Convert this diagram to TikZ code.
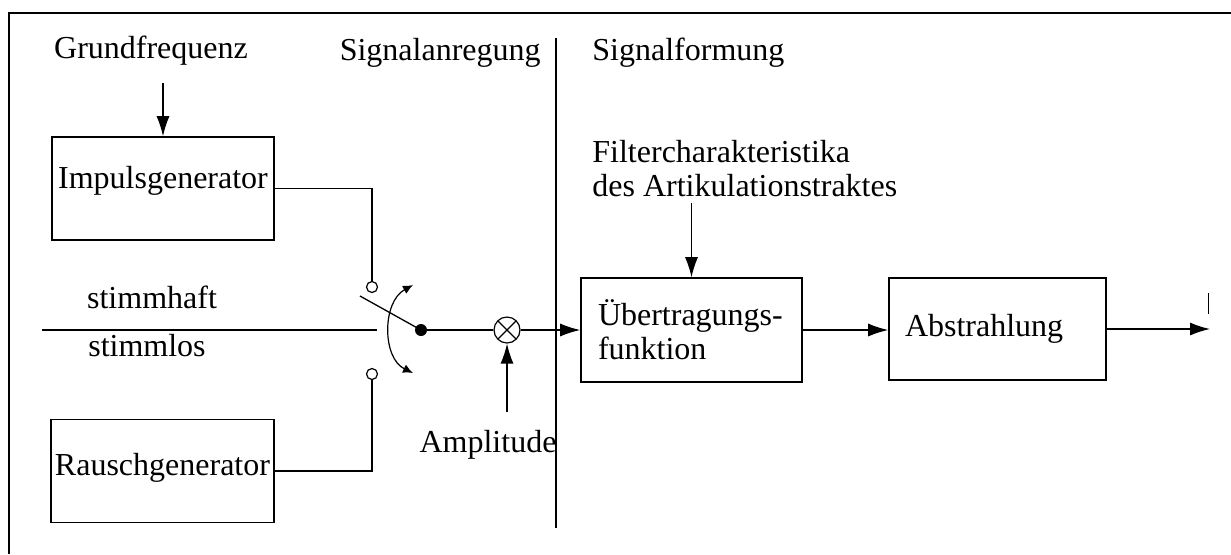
\documentclass[tikz,border=0pt]{standalone}
\usepackage{fontspec}
\setmainfont{Liberation Serif}
\usetikzlibrary{shapes,arrows,arrows.meta}
\tikzstyle{block} = [rectangle, draw, line width=0.8pt,
   minimum width=111pt, minimum height=51.5pt, inner xsep=2pt,
   text centered, text height=8pt, text depth=8pt]
\tikzstyle{textblock} = [rectangle, draw, line width=0.8pt,
   minimum width=110.5pt, minimum height=52pt, inner xsep=8.5pt,
   text width=93.5pt, align=left]
\tikzstyle{txt} = [inner sep=0pt]
\tikzstyle{line} = [draw, line width=0.65pt, -{Latex[length=10pt,width=6.5pt]}]
\tikzstyle{wire} = [draw, line width=0.65pt]
\tikzstyle{swing} = [draw, line width=0.6pt,
   {Latex[length=5pt,width=4.5pt]}-{Latex[length=5pt,width=4.5pt]}]
\tikzstyle{contact} = [circle, draw, line width=0.6pt, fill=white,
   inner sep=0pt, minimum size=5.5pt]
\tikzstyle{pivot} = [circle, fill=black, inner sep=0pt, minimum size=6pt]
\tikzstyle{mixer} = [circle, draw, line width=0.6pt, inner sep=0pt, minimum size=13pt,
   path picture={\draw [line width=0.6pt]
      (path picture bounding box.north west) -- (path picture bounding box.south east)
      (path picture bounding box.south west) -- (path picture bounding box.north east);}]

\begin{document}
\begin{tikzpicture}[x=0.5pt, y=-0.5pt, font=\fontsize{16}{17}\selectfont]
\useasboundingbox (0,0) rectangle (1231,554);
% Frame
\draw [line width=1pt] (1231,13) -- (9,13) -- (9,554);
% Place nodes
\node [txt, anchor=base] (grund) at (151,58) {Grundfrequenz};
\node [txt, anchor=base east] (anreg) at (541,60) {Signalanregung};
\node [txt, anchor=base west] (formung) at (592,60) {Signalformung};
\node [txt, anchor=north west, align=left] (filter) at (592,140) {Filtercharakteristika\\des Artikulationstraktes};
\node [block] (impuls) at (163,188.5) {Impulsgenerator};
\node [block, text height=10pt, text depth=6pt] (rausch) at (162.5,471) {Rauschgenerator};
\node [txt, anchor=base] (haft) at (152,308) {stimmhaft};
\node [txt, anchor=base] (los) at (147,356) {stimmlos};
\node [contact] (hi) at (372,287) {};
\node [contact] (lo) at (372,374) {};
\node [pivot] (piv) at (421,330) {};
\node [mixer] (mix) at (507,330) {};
\node [txt, anchor=base] (amp) at (488,452) {Amplitude};
\node [textblock] (uebertr) at (691.5,330) {Übertragungs-\\funktion};
\node [textblock, minimum width=108.5pt, minimum height=51pt, inner xsep=8pt,
   text width=92.5pt] (abstr) at (997.5,329) {Abstrahlung};
\coordinate (in) at (42,330);
\coordinate (swin) at (377,330);
\coordinate (blade) at (360,296);
\coordinate (fc) at (691.5,203);
\coordinate (dtop) at (556,38);
\coordinate (dbot) at (556,528);
\coordinate (out) at (1210,329);
% Draw edges
\path [line] ([yshift=-9pt]grund.south -| impuls.north) -- (impuls.north);
\path [wire] (impuls.east) -| (hi.north);
\path [wire] (rausch.east) -| (lo.south);
\path [wire] (in) -- (swin);
\path [wire] (piv.center) -- (blade);
\path [swing] (413,285) .. controls (382,302) and (382,358) .. (413,373);
\path [wire] (piv) -- (mix);
\path [line] ([yshift=8.5pt]amp.north -| mix.south) -- (mix.south);
\path [line] (mix.east) -- (uebertr.west);
\path [line] (fc) -- (uebertr.north);
\path [line] (uebertr.east) -- (uebertr.east -| abstr.west);
\path [line] (abstr.east) -- (out);
\path [wire] (dtop) -- (dbot);
\draw [line width=0.4pt] (1208,293) -- (1208,314);
\end{tikzpicture}
\end{document}
